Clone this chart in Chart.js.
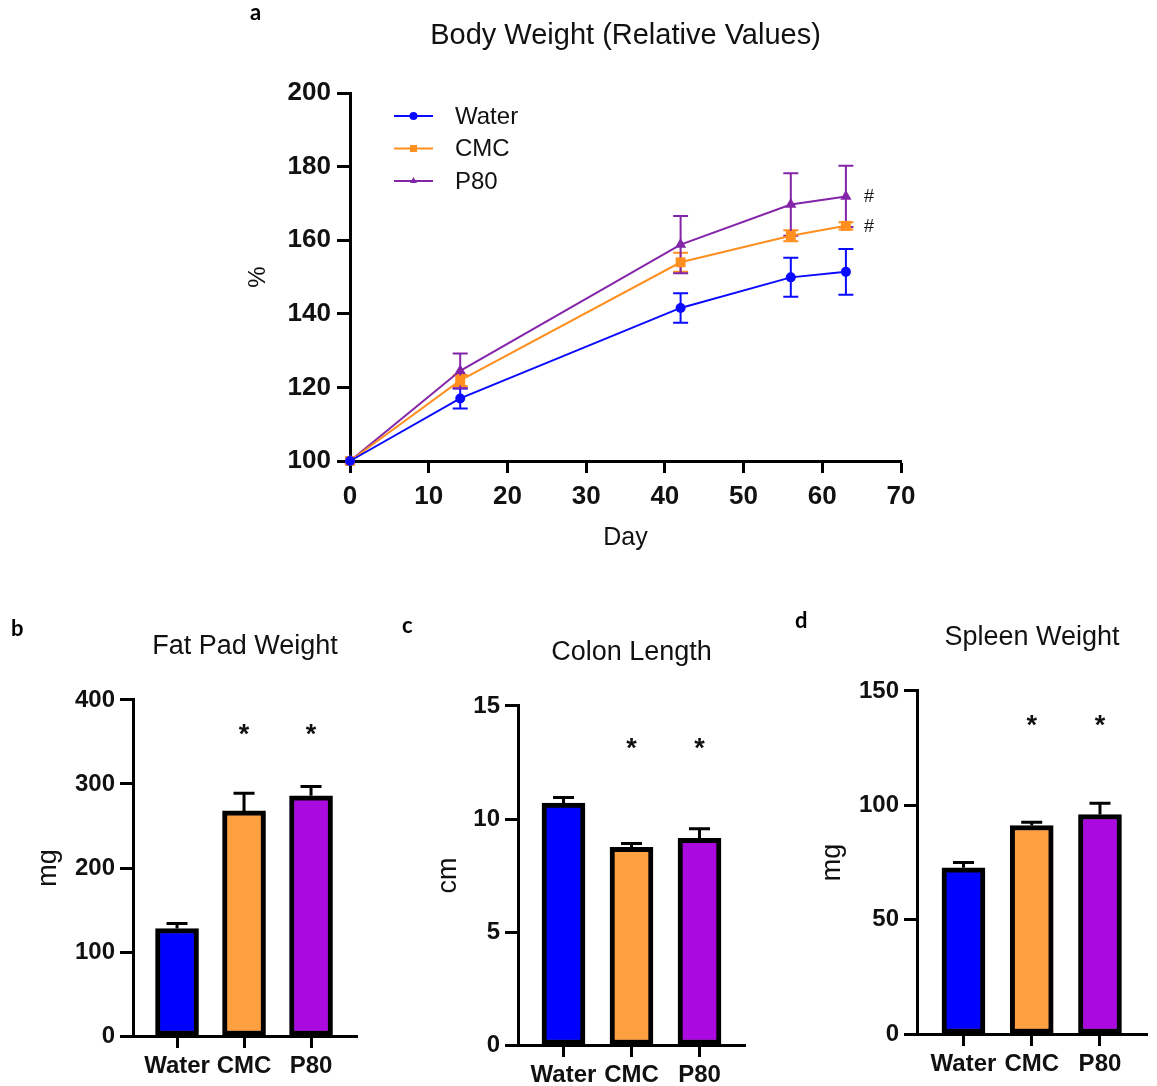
<!DOCTYPE html>
<html>
<head>
<meta charset="utf-8">
<script src="https://cdn.jsdelivr.net/npm/chart.js@4.4.1/dist/chart.umd.min.js"></script>
<style>
  html, body { margin: 0; padding: 0; background: #fff; }
  #page { position: relative; width: 1157px; height: 1086px; overflow: hidden; }
  #page canvas { position: absolute; left: 0; top: 0; }
  .tag { position: absolute; font: bold 22px Lato, sans-serif; line-height: 22px; color: #000; }
</style>
</head>
<body>
<div id="page">
  <canvas id="bodyChart" width="1157" height="1086"></canvas>
  <canvas id="fatChart" width="1157" height="1086"></canvas>
  <canvas id="colonChart" width="1157" height="1086"></canvas>
  <canvas id="spleenChart" width="1157" height="1086"></canvas>
  <div class="tag" style="left:250px;top:1px">a</div>
  <div class="tag" style="left:11px;top:617px">b</div>
  <div class="tag" style="left:402px;top:614px">c</div>
  <div class="tag" style="left:795px;top:609px">d</div>
</div>
<script>
// groups
const groups = ['Water', 'CMC', 'P80'];
const lineColors = ['#0a0aff', '#ff8f1f', '#8424a8'];
const barColors = ['#0000ff', '#ffa040', '#aa0ae0'];
const pointStyles = ['circle', 'rect', 'triangle'];

// a: body weight, % of day 0
const days = [0, 14, 42, 56, 63];
const waterBW = [100, 117.0, 141.6, 149.9, 151.4];
const waterBWErr = [0, 2.7, 4.0, 5.3, 6.2];
const cmcBW = [100, 121.9, 154.0, 161.2, 163.9];
const cmcBWErr = [0, 1.5, 2.6, 1.5, 1.0];
const p80BW = [100, 124.5, 158.8, 169.7, 171.9];
const p80BWErr = [0, 4.7, 7.8, 8.5, 8.3];
const bwHash = [false, true, true];
const dayTicks = [0, 10, 20, 30, 40, 50, 60, 70];
const bwTicks = [100, 120, 140, 160, 180, 200];

// b: fat pad weight (mg)
const fatPad = [128, 268, 286];
const fatPadErr = [6, 21, 11];
const fatTicks = [0, 100, 200, 300, 400];

// c: colon length (cm)
const colonLen = [10.7, 8.75, 9.15];
const colonLenErr = [0.25, 0.17, 0.42];
const colonTicks = [0, 5, 10, 15];

// d: spleen weight (mg)
const spleen = [72.7, 91.2, 96.0];
const spleenErr = [2.3, 1.4, 4.9];
const spleenTicks = [0, 50, 100, 150];

const starred = [false, true, true];

const sans = "'Liberation Sans', Arial, sans-serif";
const ink = '#111';

// error bars, read from dataset.errors
const errorBars = {
  id: 'errorBars',
  beforeDatasetsDraw(chart, args, opts) { if (opts.under) drawErrors(chart, opts); },
  afterDatasetsDraw(chart, args, opts) { if (!opts.under) drawErrors(chart, opts); }
};
function drawErrors(chart, opts) {
  const ctx = chart.ctx;
  const y = chart.scales.y;
  chart.data.datasets.forEach((ds, i) => {
    const meta = chart.getDatasetMeta(i);
    ctx.save();
    ctx.strokeStyle = opts.color || ds.borderColor;
    ctx.lineWidth = opts.width;
    meta.data.forEach((el, j) => {
      const e = ds.errors[j];
      if (!e) return;
      const v = ds.data[j].y;
      const top = y.getPixelForValue(v + e);
      const bot = opts.both ? y.getPixelForValue(v - e) : y.getPixelForValue(v);
      ctx.beginPath();
      ctx.moveTo(el.x, bot);
      ctx.lineTo(el.x, top);
      ctx.moveTo(el.x - opts.cap / 2, top);
      ctx.lineTo(el.x + opts.cap / 2, top);
      if (opts.both) {
        ctx.moveTo(el.x - opts.cap / 2, bot);
        ctx.lineTo(el.x + opts.cap / 2, bot);
      }
      ctx.stroke();
    });
    ctx.restore();
  });
}

// asterisks over bars
const stars = {
  id: 'stars',
  afterDatasetsDraw(chart, args, opts) {
    const ctx = chart.ctx;
    const meta = chart.getDatasetMeta(0);
    const py = chart.scales.y.getPixelForValue(opts.level);
    ctx.save();
    ctx.fillStyle = ink;
    ctx.font = 'bold 27px ' + sans;
    ctx.textAlign = 'center';
    ctx.textBaseline = 'alphabetic';
    meta.data.forEach((el, j) => {
      if (starred[j]) ctx.fillText('*', el.x, py + 11);
    });
    ctx.restore();
  }
};

// '#' next to the last point of the flagged lines
const hashMarks = {
  id: 'hashMarks',
  afterDatasetsDraw(chart) {
    const ctx = chart.ctx;
    ctx.save();
    ctx.fillStyle = ink;
    ctx.font = '18px ' + sans;
    ctx.textAlign = 'center';
    ctx.textBaseline = 'middle';
    chart.data.datasets.forEach((ds, i) => {
      if (!bwHash[i]) return;
      const pts = chart.getDatasetMeta(i).data;
      const last = pts[pts.length - 1];
      ctx.fillText('#', last.x + 23, last.y + 1);
    });
    ctx.restore();
  }
};

// legend with a line and a marker, like the original
const lineLegend = {
  id: 'lineLegend',
  afterDraw(chart) {
    const {ctx, chartArea} = chart;
    const x0 = chartArea.left + 44, y0 = chartArea.top + 23;
    chart.data.datasets.forEach((ds, i) => {
      const y = y0 + i * 32.5;
      ctx.save();
      ctx.strokeStyle = ds.borderColor;
      ctx.fillStyle = ds.borderColor;
      ctx.lineWidth = 2;
      ctx.beginPath();
      ctx.moveTo(x0, y);
      ctx.lineTo(x0 + 39, y);
      ctx.stroke();
      Chart.helpers.drawPoint(ctx, {pointStyle: ds.pointStyle, radius: ds.pointStyle === 'rect' ? 5 : 4, borderWidth: 0}, x0 + 19.5, y);
      ctx.fillStyle = ink;
      ctx.font = '24px ' + sans;
      ctx.textAlign = 'left';
      ctx.textBaseline = 'middle';
      ctx.fillText(ds.label, x0 + 61, y + 1);
      ctx.restore();
    });
  }
};

function axisGrid(len) {
  return {display: true, drawOnChartArea: false, drawTicks: true, tickLength: len, tickWidth: 3, tickColor: '#000', offset: false};
}
const axisBorder = {display: true, color: '#000', width: 3};

// a
const bwSeries = [waterBW, cmcBW, p80BW];
const bwErrs = [waterBWErr, cmcBWErr, p80BWErr];

new Chart(document.getElementById('bodyChart'), {
  type: 'line',
  data: {
    datasets: groups.map((g, i) => ({
      label: g,
      data: days.map((d, j) => ({x: d, y: bwSeries[i][j]})),
      errors: bwErrs[i],
      borderColor: lineColors[i],
      backgroundColor: lineColors[i],
      pointBackgroundColor: lineColors[i],
      pointBorderColor: lineColors[i],
      pointStyle: pointStyles[i],
      pointRadius: pointStyles[i] === 'rect' ? 7 : (pointStyles[i] === 'triangle' ? 6.5 : 5),
      pointBorderWidth: 0,
      borderWidth: 2,
      tension: 0,
      clip: false
    }))
  },
  options: {
    responsive: false,
    animation: false,
    layout: {padding: {left: 0, right: 256, top: 0, bottom: 525}},
    plugins: {
      legend: {display: false},
      tooltip: {enabled: false},
      title: {
        display: true, text: 'Body Weight (Relative Values)', fullSize: false,
        color: ink, font: {family: sans, size: 29, weight: 'normal'},
        padding: {top: 18.6, bottom: 39.6}
      },
      errorBars: {under: true, both: true, width: 2, cap: 15}
    },
    scales: {
      x: {
        type: 'linear', min: 0, max: 70, offset: false,
        afterBuildTicks: s => { s.ticks = dayTicks.map(v => ({value: v})); },
        afterFit: s => { s.height = 100; },
        ticks: {color: ink, font: {family: sans, size: 26, weight: 'bold'}, padding: 8},
        grid: axisGrid(12),
        border: axisBorder,
        title: {display: true, text: 'Day', color: ink, font: {family: sans, size: 25}, padding: {top: 0, bottom: 8}}
      },
      y: {
        min: 100, max: 200,
        afterBuildTicks: s => { s.ticks = bwTicks.map(v => ({value: v})); },
        afterFit: s => { s.width = 350; },
        ticks: {color: ink, font: {family: sans, size: 26, weight: 'bold'}, padding: 6},
        grid: axisGrid(13),
        border: axisBorder,
        title: {display: true, text: '%', color: ink, font: {family: sans, size: 24}, padding: {top: 243.6, bottom: 0}}
      }
    }
  },
  plugins: [errorBars, hashMarks, lineLegend]
});

// b, c, d
function barChart(id, c) {
  return new Chart(document.getElementById(id), {
    type: 'bar',
    data: {
      datasets: [{
        data: c.values.map((v, i) => ({x: i + 1, y: v})),
        errors: c.errors,
        backgroundColor: barColors,
        borderColor: '#000',
        borderWidth: 5,
        borderSkipped: false,
        barThickness: 43
      }]
    },
    options: {
      responsive: false,
      animation: false,
      layout: {padding: c.padding},
      plugins: {
        legend: {display: false},
        tooltip: {enabled: false},
        title: {
          display: true, text: c.title, fullSize: false,
          color: ink, font: {family: sans, size: 27, weight: 'normal'},
          padding: c.titlePad
        },
        errorBars: {under: false, both: false, width: 3, cap: 21, color: '#000'},
        stars: {level: c.starLevel}
      },
      scales: {
        x: {
          type: 'linear', min: c.xMin, max: c.xMax, offset: false,
          afterBuildTicks: s => { s.ticks = groups.map((g, i) => ({value: i + 1})); },
          afterFit: s => { s.height = c.xHeight; },
          ticks: {color: ink, font: {family: sans, size: 24, weight: 'bold'}, padding: 4, callback: v => groups[v - 1]},
          grid: axisGrid(12),
          border: axisBorder
        },
        y: {
          min: 0, max: c.ticks[c.ticks.length - 1],
          afterBuildTicks: s => { s.ticks = c.ticks.map(v => ({value: v})); },
          afterFit: s => { s.width = c.yWidth; },
          ticks: {color: ink, font: {family: sans, size: 24, weight: 'bold'}, padding: 5},
          grid: axisGrid(13),
          border: axisBorder,
          title: {display: true, text: c.unit, color: ink, font: {family: sans, size: 27}, padding: {top: c.unitPad, bottom: 0}}
        }
      }
    },
    plugins: [errorBars, stars]
  });
}

barChart('fatChart', {
  values: fatPad, errors: fatPadErr, ticks: fatTicks, title: 'Fat Pad Weight', unit: 'mg',
  starLevel: 362,
  padding: {left: 0, right: 800, top: 0, bottom: 0}, yWidth: 133, xHeight: 50,
  titlePad: {top: 630.8, bottom: 36.8}, unitPad: 32,
  xMin: 0.343, xMax: 3.686
});

barChart('colonChart', {
  values: colonLen, errors: colonLenErr, ticks: colonTicks, title: 'Colon Length', unit: 'cm',
  starLevel: 13.25,
  padding: {left: 400, right: 412, top: 0, bottom: 0}, yWidth: 118, xHeight: 41,
  titlePad: {top: 636.3, bottom: 37.3}, unitPad: 32.5,
  xMin: 0.331, xMax: 3.669
});

barChart('spleenChart', {
  values: spleen, errors: spleenErr, ticks: spleenTicks, title: 'Spleen Weight', unit: 'mg',
  starLevel: 136,
  padding: {left: 790, right: 10, top: 0, bottom: 0}, yWidth: 127, xHeight: 52,
  titlePad: {top: 621.3, bottom: 37.3}, unitPad: 26.5,
  xMin: 0.319, xMax: 3.689
});
</script>
</body>
</html>
